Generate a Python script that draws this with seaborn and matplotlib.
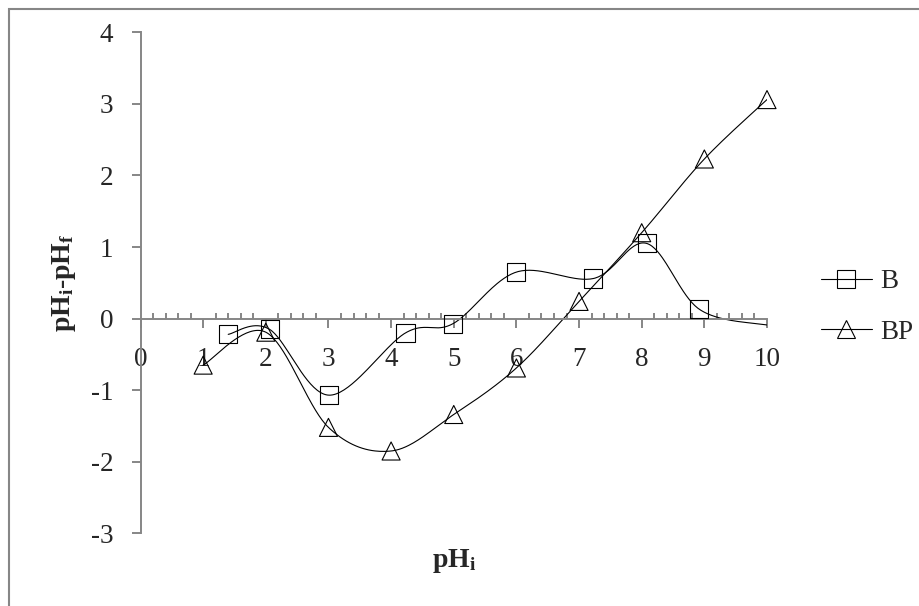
import numpy as np
import matplotlib
matplotlib.use("Agg")
import matplotlib.pyplot as plt
import seaborn as sns
from matplotlib.lines import Line2D
from matplotlib.patches import Rectangle
from matplotlib.ticker import MultipleLocator

# values
b_x = [1.4, 2.06, 3.01, 4.23, 4.99, 6.0, 7.23, 8.08, 8.92, 10.0]
b_y = [-0.22, -0.15, -1.07, -0.2, -0.07, 0.65, 0.56, 1.05, 0.13, -0.09]
bp_x = [1, 2, 3, 4, 5, 6, 7, 8, 9, 10]
bp_y = [-0.65, -0.19, -1.52, -1.85, -1.34, -0.69, 0.24, 1.2, 2.23, 3.06]
x_ticks = list(range(0, 11))
y_ticks = list(range(-3, 5))

sns.set_style("white")
plt.rcParams['font.family'] = ['Liberation Serif', 'DejaVu Serif']
plt.rcParams['mathtext.fontset'] = 'custom'
plt.rcParams['mathtext.rm'] = 'Liberation Serif'
plt.rcParams['mathtext.bf'] = 'Liberation Serif:bold'
plt.rcParams['mathtext.it'] = 'Liberation Serif:italic'
plt.rcParams['axes.unicode_minus'] = False

AXIS_GRAY = '#868686'


def smooth(xs, ys, n=40):
    # Excel-like smoothed line (Catmull-Rom bezier through the points)
    p = np.column_stack([xs, ys]).astype(float)
    pad = np.vstack([p[0], p, p[-1]])
    t = np.linspace(0, 1, n)[:, None]
    parts = []
    for i in range(len(p) - 1):
        p0, p1, p2, p3 = pad[i], pad[i + 1], pad[i + 2], pad[i + 3]
        c1 = p1 + (p2 - p0) / 6
        c2 = p2 - (p3 - p1) / 6
        seg = (1 - t) ** 3 * p1 + 3 * (1 - t) ** 2 * t * c1 + 3 * (1 - t) * t ** 2 * c2 + t ** 3 * p2
        parts.append(seg if i == 0 else seg[1:])
    return np.vstack(parts)


fig = plt.figure(figsize=(9.19, 6.06), dpi=100)
ax = fig.add_axes([140.5 / 919, 72.7 / 606, 626.5 / 919, 501 / 606])

# curves
for xs, ys in [(b_x, b_y), (bp_x, bp_y)]:
    c = smooth(xs, ys)
    sns.lineplot(x=c[:, 0], y=c[:, 1], ax=ax, color='black', lw=0.8,
                 sort=False, estimator=None)

# markers (B has no marker on its last point)
sns.scatterplot(x=b_x[:-1], y=b_y[:-1], ax=ax, marker='s', s=13 ** 2,
                facecolor='none', edgecolor='black', linewidth=0.8, zorder=3,
                clip_on=False)
sns.scatterplot(x=bp_x, y=bp_y, ax=ax, marker='^', s=13 ** 2,
                facecolor='none', edgecolor='black', linewidth=0.8, zorder=3,
                clip_on=False)

ax.set_xlim(0, 10)
ax.set_ylim(-3, 4)
ax.set_xticks(x_ticks)
ax.set_yticks(y_ticks)
ax.xaxis.set_minor_locator(MultipleLocator(0.2))

for s in ['top', 'right']:
    ax.spines[s].set_visible(False)
ax.spines['bottom'].set_position(('data', 0))
for s in ['left', 'bottom']:
    ax.spines[s].set_color(AXIS_GRAY)
    ax.spines[s].set_linewidth(1.4)

ax.tick_params(axis='x', which='both', bottom=True)
ax.tick_params(axis='y', which='major', left=True)
ax.tick_params(axis='x', which='major', direction='out', length=6.5, width=1.4,
               color=AXIS_GRAY, labelsize=19.5, pad=14)
ax.tick_params(axis='x', which='minor', direction='in', length=4.5, width=1.4,
               color=AXIS_GRAY)
ax.tick_params(axis='y', which='major', direction='out', length=6.5, width=1.4,
               color=AXIS_GRAY, labelsize=19.5, pad=13)

ax.set_xlabel(r'$\mathbf{pH_i}$', fontsize=20, fontweight='bold', va='top')
ax.xaxis.set_label_coords(0.5, -0.027)
ax.set_ylabel(r'$\mathbf{pH_i}$-$\mathbf{pH_f}$', fontsize=20, fontweight='bold')
ax.yaxis.set_label_coords(-0.1, 0.5)

handles = [
    Line2D([], [], color='black', lw=0.8, marker='s', markersize=13,
           mfc='none', mec='black', mew=0.8),
    Line2D([], [], color='black', lw=0.8, marker='^', markersize=13,
           mfc='none', mec='black', mew=0.8),
]
ax.legend(handles, ['B', 'BP'], loc='center left', bbox_to_anchor=(1.0638, 0.452),
          frameon=False, fontsize=19.5, borderpad=0, handlelength=1.9,
          handletextpad=0.3, labelspacing=0.95)

# outer chart-area border (cropped on the right and bottom)
fig.patches.append(Rectangle((9 / 919, -0.5), 2, 1.5 - 9 / 606, transform=fig.transFigure,
                             fill=False, edgecolor=AXIS_GRAY, lw=1.5))

fig.savefig('out.png', dpi=100)
